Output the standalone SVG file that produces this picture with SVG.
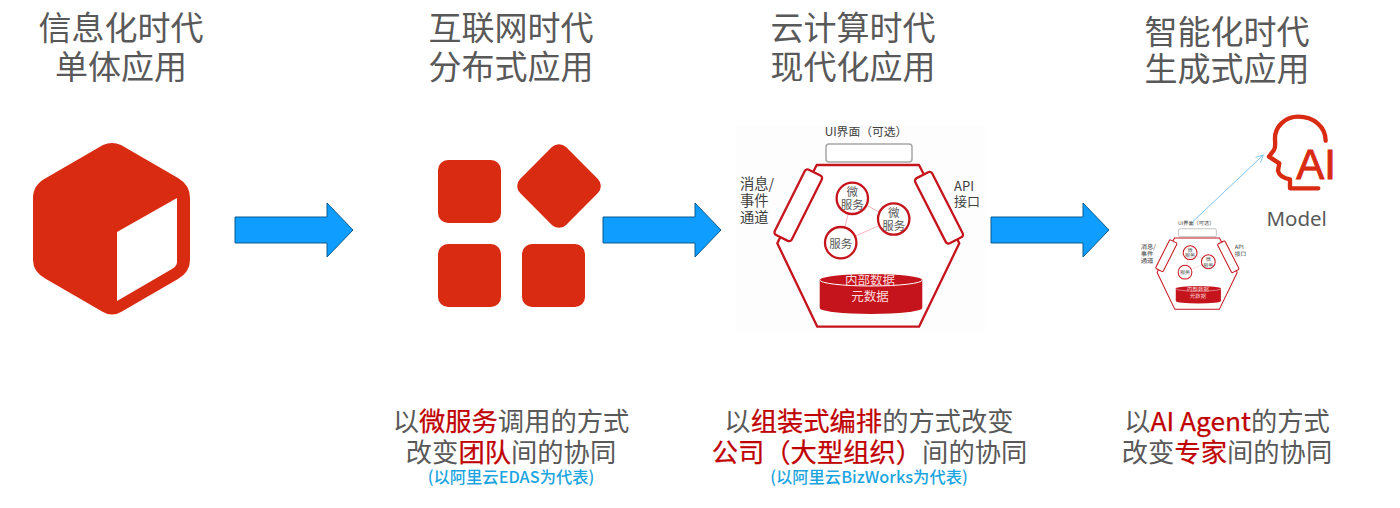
<svg xmlns="http://www.w3.org/2000/svg" width="1400" height="508" viewBox="0 0 1400 508">
<style>
text{font-family:"Noto Sans CJK SC","Liberation Sans",sans-serif;text-anchor:middle}
.title{font-size:33px;fill:#595959}
.desc{font-size:26.3px;fill:#595959}
.r{fill:#c00000;stroke:#c00000;stroke-width:.25}
.note{font-size:16.3px;fill:#1ba5e0;font-weight:500}
.red{fill:#d92a12}
.big{fill:#0f9dff;stroke:#0b5a8f;stroke-width:1}
.hex{fill:#fff;stroke:#c5141c;stroke-width:2.300;stroke-linejoin:round}
.svc{fill:#fff;stroke:#c5141c;stroke-width:2.300}
.link{stroke:#f3b8bf;stroke-width:1;fill:none}
.lbl{fill:#404040}
.st{text-anchor:start}
.in{fill:#595959;font-size:11.5px}
.db{fill:#c5141c}
.dbt{fill:#fbdcdc;font-size:12.5px}
#genai-app text{text-rendering:geometricPrecision}
</style>
<defs>
<marker id="open" viewBox="0 0 10 10" refX="9" refY="5" markerWidth="9" markerHeight="9" orient="auto" markerUnits="userSpaceOnUse"><path d="M1 1L9 5L1 9" fill="none" stroke="#7cc4ee" stroke-width="1"/></marker>
</defs>
<rect width="1400" height="508" fill="#fff"/>
<g id="title-1"><text class="title"><tspan x="121" y="40">信息化时代</tspan><tspan x="121" y="79">单体应用</tspan></text></g>
<g id="title-2"><text class="title"><tspan x="511" y="40">互联网时代</tspan><tspan x="511" y="79">分布式应用</tspan></text></g>
<g id="title-3"><text class="title"><tspan x="853" y="40">云计算时代</tspan><tspan x="853" y="79">现代化应用</tspan></text></g>
<g id="title-4"><text class="title"><tspan x="1227" y="44">智能化时代</tspan><tspan x="1227" y="81">生成式应用</tspan></text></g>
<g id="monolith">
<path class="red" fill-rule="evenodd" d="M103 145Q112 141 121 145L178 178Q190 185 190 198V260Q190 272 178 279L121 312Q112 317 103 312L46 279Q33 272 33 260V198Q33 185 46 178ZM117 232V301L172 269Q177 266 177 262V198Z"/>
</g>
<g id="microservices" class="red">
<rect x="438" y="160" width="63" height="63" rx="10"/>
<rect x="438" y="244" width="63" height="63" rx="10"/>
<rect x="522" y="244" width="63" height="63" rx="10"/>
<rect x="-32.500" y="-32.500" width="65" height="65" rx="10" transform="translate(559 186) rotate(45)"/>
</g>
<g id="modern-app">
<rect x="736" y="125" width="249" height="207" fill="#fdfdfd"/>
<text class="lbl" x="866" y="136" font-size="11.800">UI界面（可选）</text>
<rect x="826" y="144" width="86" height="18" rx="3" fill="#fff" stroke="#a6a6a6" stroke-width="1.500"/>
<path class="hex" d="M816.700 165H919L959.300 243.300L919 326.700H817.300L777.300 243.300Z"/>
<rect class="hex" x="-9.500" y="-36.500" width="19" height="73" rx="3" transform="translate(798.300 205.300) rotate(26.600)"/>
<rect class="hex" x="-9.500" y="-36.500" width="19" height="73" rx="3" transform="translate(939 207.700) rotate(-27)"/>
<text class="lbl st" font-size="14.300"><tspan x="740" y="189">消息/</tspan><tspan x="740" y="206">事件</tspan><tspan x="740" y="222.500">通道</tspan></text>
<text class="lbl st" font-size="13"><tspan x="954" y="191">API</tspan><tspan x="954" y="206">接口</tspan></text>
<path class="link" d="M852.300 198.300L893.700 219L840.700 242.700Z"/>
<circle class="svc" cx="852.300" cy="198.300" r="15.700"/>
<circle class="svc" cx="893.700" cy="219" r="15.700"/>
<circle class="svc" cx="840.700" cy="242.700" r="15.700"/>
<text class="in"><tspan x="852.300" y="196">微</tspan><tspan x="852.300" y="209">服务</tspan></text>
<text class="in"><tspan x="893.700" y="216.500">微</tspan><tspan x="893.700" y="230">服务</tspan></text>
<text class="in" x="840.700" y="247.500">服务</text>
<path class="db" d="M819.700 280A51.300 6 0 0 1 922.300 280V308A51.300 6 0 0 1 819.700 308Z"/>
<path d="M819.700 280A51.300 6 0 0 0 922.300 280" fill="none" stroke="#fff" stroke-width="1"/>
<text class="dbt"><tspan x="870" y="284.500">内部数据</tspan><tspan x="870" y="301">元数据</tspan></text>
</g>
<g id="genai-app" transform="translate(815.100 165.400) scale(.44)">
<text class="lbl" x="866" y="136" font-size="11.800">UI界面（可选）</text>
<rect x="826" y="144" width="86" height="18" rx="3" fill="#fff" stroke="#a6a6a6" stroke-width="1.500"/>
<path class="hex" d="M816.700 165H919L959.300 243.300L919 326.700H817.300L777.300 243.300Z"/>
<rect class="hex" x="-9.500" y="-36.500" width="19" height="73" rx="3" transform="translate(798.300 205.300) rotate(26.600)"/>
<rect class="hex" x="-9.500" y="-36.500" width="19" height="73" rx="3" transform="translate(939 207.700) rotate(-27)"/>
<text class="lbl st" font-size="14.300"><tspan x="740" y="189">消息/</tspan><tspan x="740" y="206">事件</tspan><tspan x="740" y="222.500">通道</tspan></text>
<text class="lbl st" font-size="13"><tspan x="954" y="191">API</tspan><tspan x="954" y="206">接口</tspan></text>
<path class="link" d="M852.300 198.300L893.700 219L840.700 242.700Z"/>
<circle class="svc" cx="852.300" cy="198.300" r="15.700"/>
<circle class="svc" cx="893.700" cy="219" r="15.700"/>
<circle class="svc" cx="840.700" cy="242.700" r="15.700"/>
<text class="in"><tspan x="852.300" y="196">微</tspan><tspan x="852.300" y="209">服务</tspan></text>
<text class="in"><tspan x="893.700" y="216.500">微</tspan><tspan x="893.700" y="230">服务</tspan></text>
<text class="in" x="840.700" y="247.500">服务</text>
<path class="db" d="M819.700 280A51.300 6 0 0 1 922.300 280V308A51.300 6 0 0 1 819.700 308Z"/>
<path d="M819.700 280A51.300 6 0 0 0 922.300 280" fill="none" stroke="#fff" stroke-width="1"/>
<text class="dbt"><tspan x="870" y="284.500">内部数据</tspan><tspan x="870" y="301">元数据</tspan></text>
</g>
<g id="ai-model">
<path transform="translate(1120 100) scale(.3333)" fill="none" stroke="#d92a12" stroke-width="13" stroke-linecap="round" stroke-linejoin="round" d="M617 122C617 80 580 50 535 50C495 50 465 80 465 115C465 130 468 140 462 150L447 170L478 190L474 212Q478 232 510 238L510 265L595 265"/>
<text x="1316" y="178.500" font-size="42" fill="#d92a12" stroke="#d92a12" stroke-width=".9" style="font-family:'Liberation Sans',sans-serif">AI</text>
<text x="1296.700" y="225.700" font-size="20.500" fill="#595959" style="font-family:'Noto Sans',sans-serif">Model</text>
</g>
<g id="connectors">
<path class="big" d="M235 217H327V203L353 230L327 257V243H235Z"/>
<path class="big" d="M603 217H695V203L721 230L695 257V243H603Z"/>
<path class="big" d="M991 217H1083V203L1109 230L1083 257V243H991Z"/>
<path d="M1192.700 221.700L1263.300 155" fill="none" stroke="#7cc4ee" stroke-width="1" marker-end="url(#open)"/>
</g>
<g id="desc-2">
<text class="desc"><tspan x="511" y="431">以</tspan><tspan class="r">微服务</tspan><tspan>调用的方式</tspan><tspan x="511" y="462">改变</tspan><tspan class="r">团队</tspan><tspan>间的协同</tspan></text>
<text class="note" x="511" y="483">(以阿里云EDAS为代表)</text>
</g>
<g id="desc-3">
<text class="desc"><tspan x="869" y="431">以</tspan><tspan class="r">组装式编排</tspan><tspan>的方式改变</tspan><tspan x="869.500" y="462" class="r">公司（大型组织）</tspan><tspan>间的协同</tspan></text>
<text class="note" x="869" y="483">(以阿里云BizWorks为代表)</text>
</g>
<g id="desc-4">
<text class="desc"><tspan x="1227" y="431">以</tspan><tspan class="r">AI Agent</tspan><tspan>的方式</tspan><tspan x="1227" y="462">改变</tspan><tspan class="r">专家</tspan><tspan>间的协同</tspan></text>
</g>
</svg>
